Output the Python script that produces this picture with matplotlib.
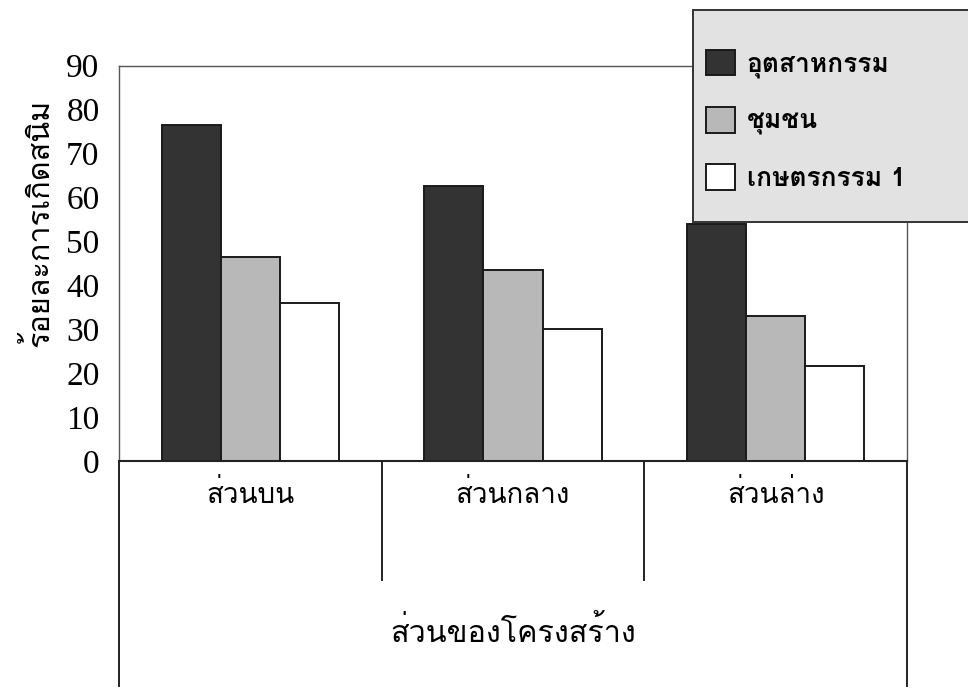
import numpy as np
import matplotlib
matplotlib.use('Agg')
import matplotlib.pyplot as plt
from matplotlib import font_manager
from matplotlib.ft2font import FT2Font
from matplotlib.patches import Rectangle
import matplotlib.transforms as mtransforms

categories = ['ส่วนบน', 'ส่วนกลาง', 'ส่วนล่าง']
series_names = ['อุตสาหกรรม', 'ชุมชน', 'เกษตรกรรม 1']
industry = [76.5, 62.5, 54.0]
community = [46.5, 43.5, 33.0]
agriculture = [36.0, 30.0, 21.5]
yticks = [0, 10, 20, 30, 40, 50, 60, 70, 80, 90]
xlabel = 'ส่วนของโครงสร้าง'
ylabel = 'ร้อยละการเกิดสนิม'


# first installed font that has Thai glyphs
def thai_font():
    for f in font_manager.fontManager.ttflist:
        try:
            cmap = FT2Font(f.fname).get_charmap()
        except Exception:
            continue
        if 0x0E2A in cmap and 0x0E48 in cmap:
            return f.name
    return 'DejaVu Sans'


TH = thai_font()

fig = plt.figure(figsize=(9.68, 6.92), dpi=100)
ax = fig.add_axes([0.123, 0.334, 0.814, 0.571])

x = np.arange(len(categories))
w = 0.225
colors = ['#333333', '#b8b8b8', '#ffffff']
bars = []
for i, vals in enumerate([industry, community, agriculture]):
    b = ax.bar(x + (i - 1) * w, vals, w, color=colors[i], edgecolor='#1a1a1a',
               linewidth=1.4, label=series_names[i], zorder=2)
    bars.append(b)

ax.set_xlim(-0.5, 2.5)
ax.set_ylim(0, 90)
ax.set_yticks(yticks)
ax.set_yticklabels([str(t) for t in yticks], fontfamily='Liberation Serif', fontsize=24)
ax.tick_params(axis='y', length=0, pad=14)
ax.set_xticks([])
for s in ax.spines.values():
    s.set_color('#555555')
    s.set_linewidth(1.0)
ax.spines['bottom'].set_color('#222222')
ax.spines['bottom'].set_linewidth(1.5)

# category table under the axis
trans = mtransforms.blended_transform_factory(ax.transData, fig.transFigure)
for xv, ybot in [(-0.5, 0.009), (0.5, 0.162), (1.5, 0.162), (2.5, 0.009)]:
    ax.plot([xv, xv], [0.334, ybot], transform=trans, color='#222222', lw=1.4, clip_on=False)
for xi, c in zip(x, categories):
    ax.text(xi, 0.285, c, transform=trans, ha='center', va='center',
            fontfamily=TH, fontsize=20)
ax.text(1, 0.087, xlabel, transform=trans, ha='center', va='center',
        fontfamily=TH, fontsize=22)

fig.text(0.04, 0.678, ylabel, rotation=90, ha='center', va='center',
         fontfamily=TH, fontsize=22)

# legend box
fig.patches.append(Rectangle((693 / 968, 1 - 222 / 692), 0.3, 212 / 692,
                             transform=fig.transFigure, facecolor='#e2e2e2',
                             edgecolor='#333333', lw=1.4, zorder=3))
leg = fig.legend(handles=bars, labels=series_names, loc='upper left',
                 bbox_to_anchor=(706 / 968, 1 - 50 / 692), frameon=False,
                 borderpad=0, borderaxespad=0,
                 prop={'family': TH, 'size': 19, 'weight': 'bold'},
                 handlelength=1.1, handleheight=1.1, handletextpad=0.45,
                 labelspacing=1.1)
leg.set_zorder(4)

fig.savefig('out.png', dpi=100)
